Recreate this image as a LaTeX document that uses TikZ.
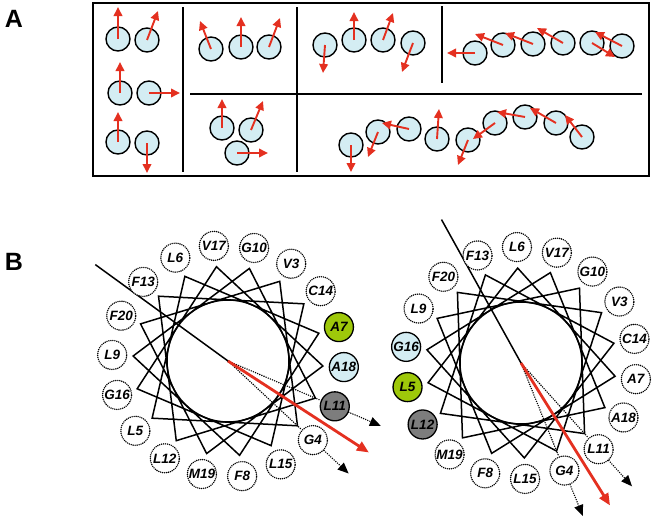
\documentclass[tikz,border=0pt]{standalone}
\usepackage{fontspec}
\setmainfont{Liberation Sans}
\usetikzlibrary{arrows.meta}
\definecolor{vecred}{RGB}{228,48,32}
\definecolor{cellblue}{RGB}{212,237,243}
\definecolor{limeres}{RGB}{158,200,10}
\definecolor{greyres}{RGB}{125,125,125}
\tikzset{
  frame/.style={line width=1.8pt},
  res/.style={circle, draw, line width=1.4pt, fill=cellblue, minimum size=24pt, inner sep=0pt},
  vec/.style={vecred, line width=1.9pt, -{Triangle[length=9pt,width=8.5pt]}},
  wheel/.style={line width=1.5pt},
  lbl/.style={circle, draw, fill=white, line width=1.6pt, line cap=round, dash pattern=on 0pt off 2pt,
    minimum size=29pt, inner sep=0pt, font=\fontsize{13.5}{13.5}\selectfont\bfseries\itshape},
  hit/.style={solid, line cap=butt, line width=1.3pt},
  proj/.style={line width=1.6pt, line cap=round, dash pattern=on 0pt off 2.3pt, -{Triangle[length=11pt,width=9pt]}},
  moment/.style={vecred, line width=2.8pt, -{Triangle[length=12pt,width=10pt]}},
  panel/.style={font=\fontsize{25}{25}\selectfont\bfseries},
  tint l7/.style={hit, fill=limeres},
  tint l18/.style={hit, fill=cellblue},
  tint l11/.style={hit, fill=greyres},
  tint r5/.style={hit, fill=limeres},
  tint r16/.style={hit, fill=cellblue},
  tint r12/.style={hit, fill=greyres},
}
\newcommand\spinlist{118/39/118/7, 147/40/158/11, 120/93/120/62, 149/93/180/93, 118/142/118/112, 147/143/147/173,
  211/49/200/21, 241/47/241/17, 269/47/280/18,
  222/128/222/99, 251/130/263/101, 237/153/268/153,
  325/45/323/73, 354/40/354/12, 383/40/393/13, 413/43/402/72,
  475/53/447/53, 503/45/475/34, 533/44/505/33, 563/43/537/28, 592/43/615/57, 622/46/595/32,
  351/145/351/172, 378/132/368/157, 409/129/382/123, 437/139/439/109, 468/140/458/165,
  495/123/473/139, 525/117/497/112, 556/123/530/108, 582/137/565/115}
\begin{document}
\begin{tikzpicture}[x=1pt, y=-1pt]
    \useasboundingbox (0,0) rectangle (656,522);
    \node[panel] (pa) at (14,19) {A};
    \node[panel] (pb) at (14,262) {B};
    \draw[frame] (93,3) rectangle (649,176);
    \draw[frame] (183,7) -- (183,172);
    \draw[frame] (297,7) -- (297,172);
    \draw[frame] (442,6) -- (442,83);
    \draw[frame] (190,94) -- (642,94);
    \foreach \x/\y/\u/\v [count=\i] in \spinlist
        \node[res] (c\i) at (\x,\y) {};
    \foreach \x/\y/\u/\v [count=\i] in \spinlist {
        \coordinate (h\i) at (\u,\v);
        \draw[vec] (c\i.center) -- (h\i);
    }
    \foreach \w/\cx/\cy/\off in {l/228/361/57, r/521/363/32} {
        \begin{scope}[shift={(\cx,\cy)}, yscale=-1]
            \coordinate (\w c) at (0,0);
            \coordinate (\w t) at ({\off+87}:164);
            \coordinate (\w m) at ({\off-90}:168);
            \coordinate (\w e4) at ({\off-100}:165);
            \coordinate (\w e11) at ({\off-800}:166);
            \draw[wheel] (\off:95) \foreach \k in {1,...,17} { -- ({\off-100*\k}:95) } -- cycle;
            \draw[wheel] (\w c) circle[radius=61];
            \draw[wheel] (\w c) -- (\w t);
            \foreach \n/\aa in {3/V,4/G,5/L,6/L,7/A,8/F,9/L,10/G,11/L,12/L,13/F,14/C,15/L,16/G,17/V,18/A,19/M,20/F}
                \node[lbl, tint \w\n/.try] (\w\n) at ({\off-100*(\n-3)}:116) {\aa\n};
            \draw[proj] (\w c) -- (\w11) -- (\w e11);
            \draw[proj] (\w c) -- (\w4) -- (\w e4);
            \draw[moment] (\w c) -- (\w m);
        \end{scope}
    }
\end{tikzpicture}
\end{document}
